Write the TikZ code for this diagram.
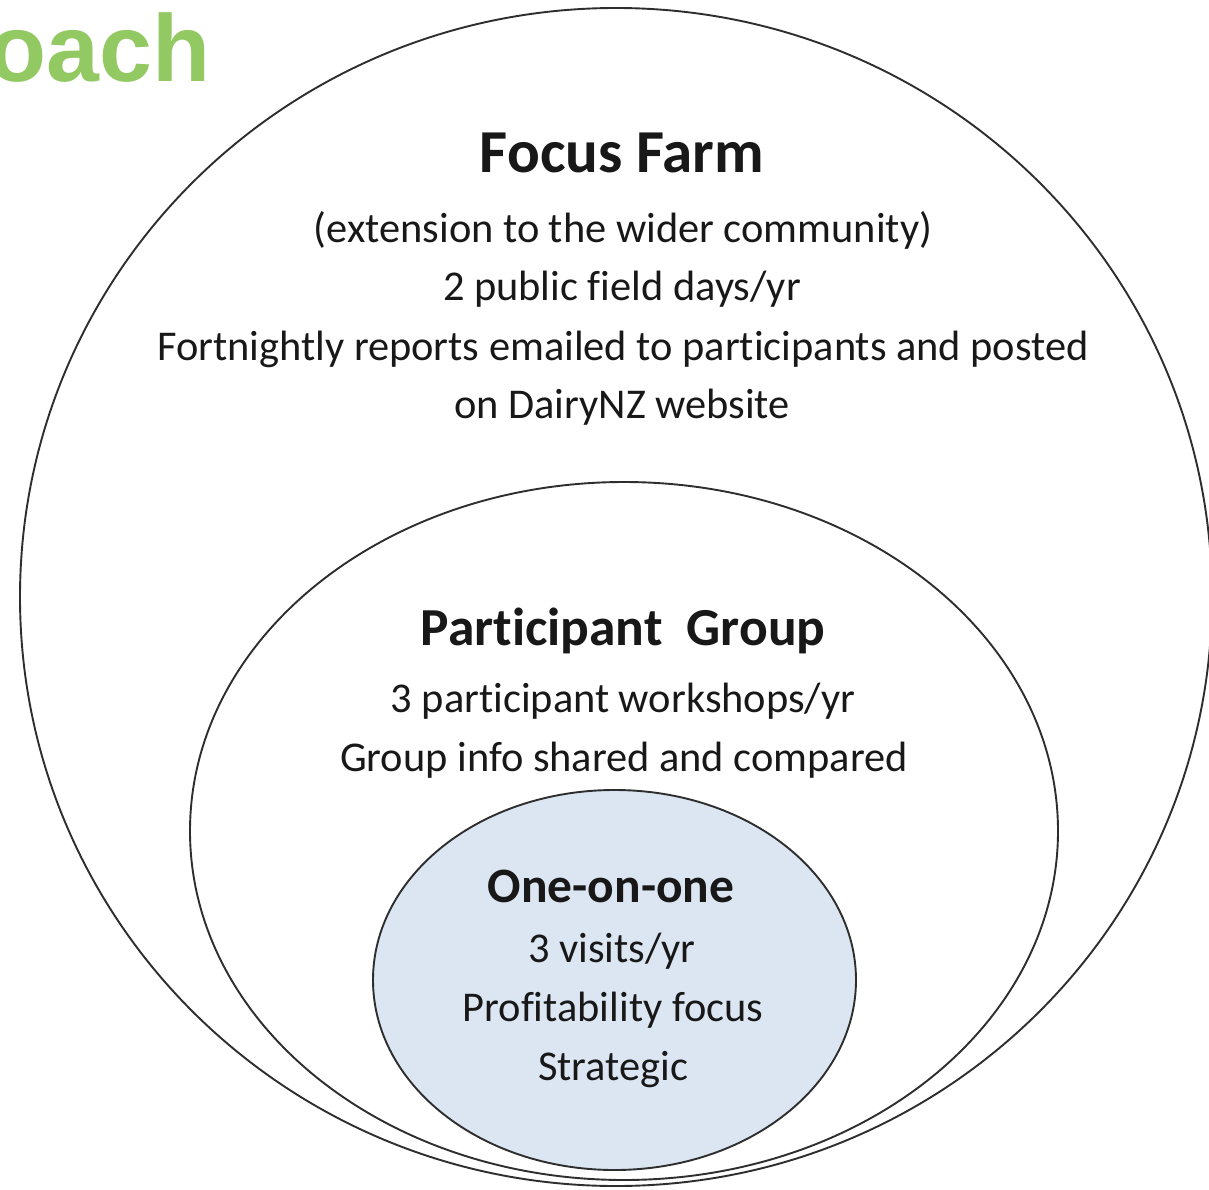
\documentclass[tikz,border=0pt]{standalone}
\usepackage{fontspec}
\setmainfont{Carlito}[Ligatures=NoCommon]
\newfontfamily\arialfont{Liberation Sans}
\usetikzlibrary{shapes.geometric}
\definecolor{ringline}{HTML}{2E2E2E}
\definecolor{innerfill}{HTML}{DCE6F2}
\definecolor{titlegreen}{HTML}{92C962}
\definecolor{txt}{HTML}{181818}
\tikzset{
  ring/.style={ellipse, draw=ringline, line width=1.9pt, inner sep=0pt},
  head/.style={anchor=base, inner sep=0pt, text=txt, font=\bfseries\fontsize{#1}{#1}\selectfont},
  body/.style={anchor=base, inner sep=0pt, text=txt, font=\fontsize{42.4}{42.4}\selectfont},
}
\begin{document}
\begin{tikzpicture}[x=1pt,y=-1pt]
\useasboundingbox (0,0) rectangle (1209,1190);
\fill[white] (0,0) rectangle (1209,1190);
\begin{scope}
\clip (0,0) rectangle (1209,1190);
\node[anchor=base west, inner sep=0pt, text=titlegreen, font=\arialfont\bfseries\fontsize{95}{95}\selectfont] (title) at (-11.5,82) {oach};
\node[ring, minimum width=1192pt, minimum height=1178pt] (outer) at (616,597) {};
\node[ring, minimum width=868pt, minimum height=698pt] (middle) at (624,831) {};
\node[ring, fill=innerfill, minimum width=483pt, minimum height=380pt] (inner) at (614.5,980) {};
\end{scope}
% Focus Farm
\node[head=61] (ffhead) at (622,173) {Focus Farm};
\node[body] (ff1) at (623,243) {(extension to the wider community)};
\node[body] (ff2) at (622,300) {2 public field days/yr};
\node[body] (ff3) at (623,360) {Fortnightly reports emailed to participants and posted};
\node[body] (ff4) at (622,418) {on DairyNZ website};
% Participant Group
\node[head=53.5] (pghead) at (623,645) {Participant\ \ Group};
\node[body] (pg1) at (623,712) {3 participant workshops/yr};
\node[body] (pg2) at (624,771) {Group info shared and compared};
% One-on-one
\node[head=49.5] (oohead) at (611,902) {One-on-one};
\node[body] (oo1) at (612,962) {3 visits/yr};
\node[body] (oo2) at (613,1021) {Profitability focus};
\node[body] (oo3) at (613,1080) {Strategic};
\end{tikzpicture}
\end{document}
